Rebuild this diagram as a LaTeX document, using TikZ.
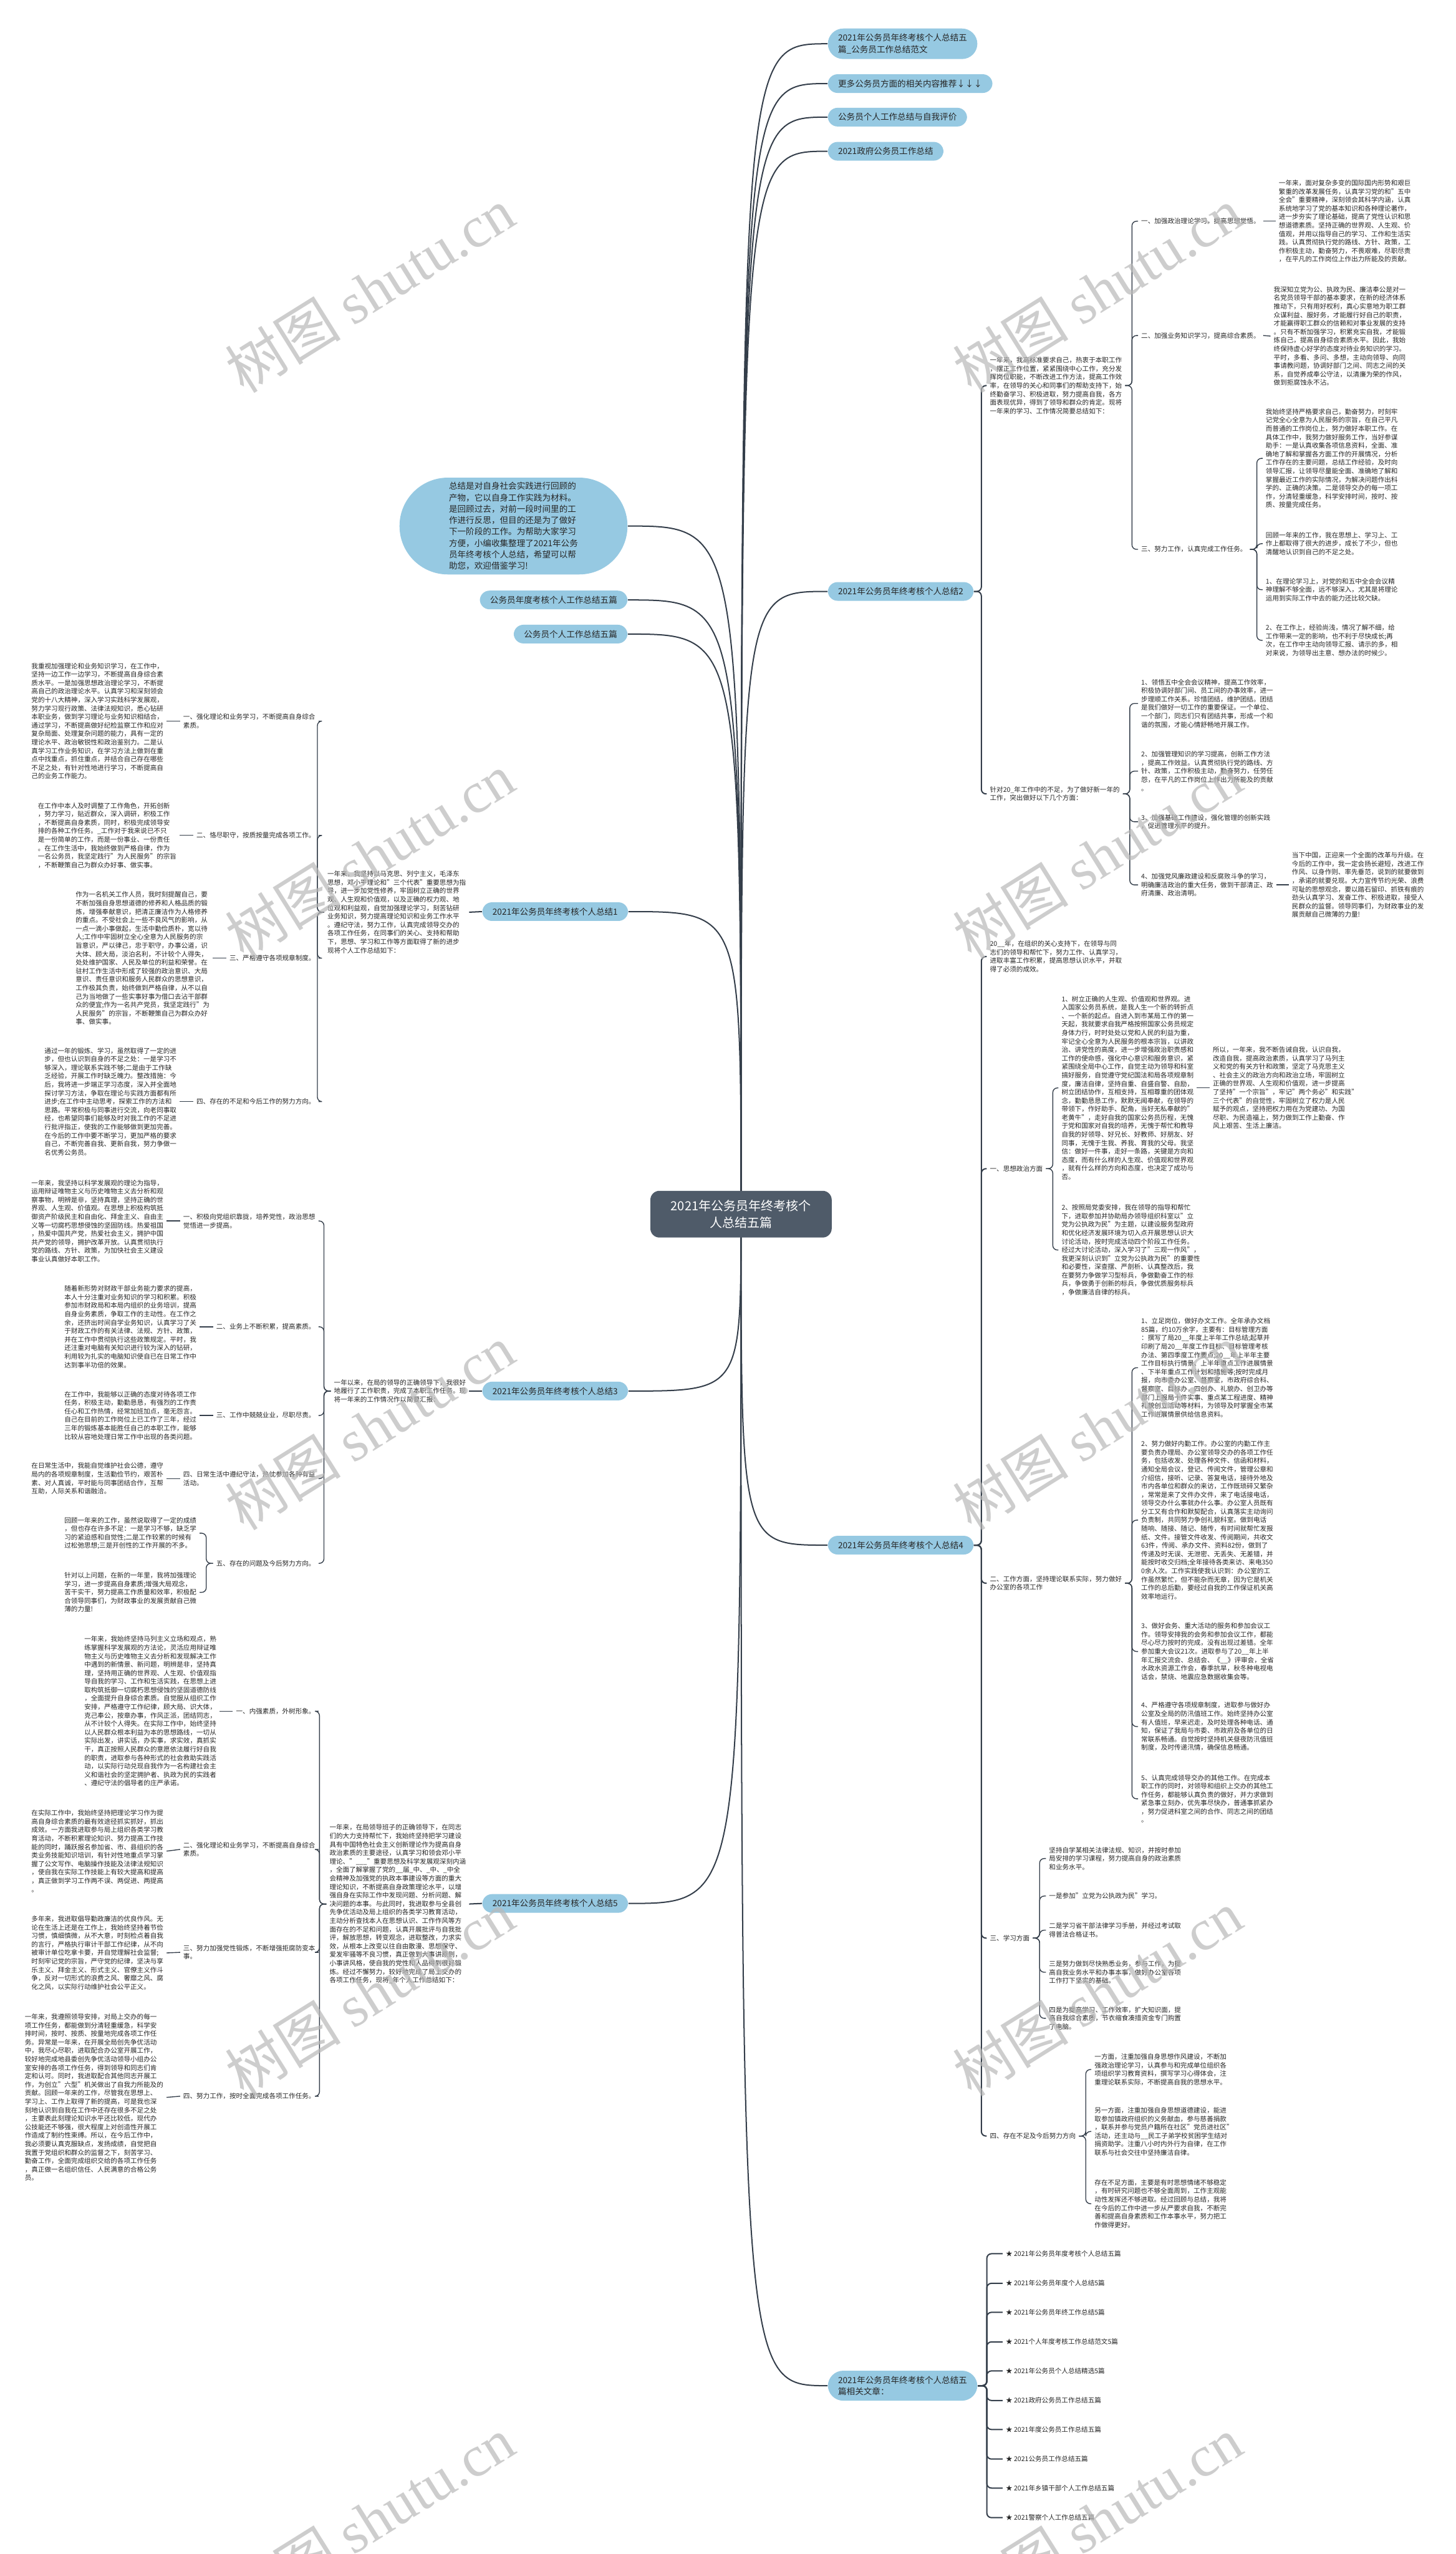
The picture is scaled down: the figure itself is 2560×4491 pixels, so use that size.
\documentclass[tikz,border=0pt]{standalone}
\usepackage{fontspec}
\usepackage{xcolor}
\setmainfont{Noto Sans CJK SC}
\newfontfamily\wmfont{Liberation Serif}
\usetikzlibrary{backgrounds}

\definecolor{topc}{RGB}{150,201,226}
\definecolor{rootc}{RGB}{79,91,105}
\definecolor{lnc}{RGB}{52,62,74}
\definecolor{txc}{RGB}{38,38,38}
\definecolor{wmc}{RGB}{185,185,185}

\begin{document}
\begin{tikzpicture}[x=0.1mm,y=-0.1mm,
    link/.style={draw=lnc, line width=0.22mm},
    brk/.style={draw=lnc, line width=0.15mm, rounded corners=0.8mm},
    rootbox/.style={rectangle, rounded corners=1.6mm, fill=rootc, text=white, inner xsep=3.6mm, inner ysep=1.6mm, align=center, font=\fontsize{6.26pt}{8.5pt}\selectfont},
    topic/.style={rectangle, rounded corners=1.7mm, fill=topc, text=txc, inner xsep=1.8mm, inner ysep=0.95mm, align=left, font=\fontsize{4.24pt}{5.69pt}\selectfont},
    leaf/.style={inner sep=0.5mm, text=txc, align=left, font=\fontsize{3.3pt}{4.24pt}\selectfont},
    wmark/.style={text=wmc, text opacity=0.7, rotate=32, font=\fontsize{29pt}{29pt}\selectfont}]

    \useasboundingbox (0,0) rectangle (2560,4491);

    % root and first level
    \node (root) at (1303, 2135) [rootbox] {2021年公务员年终考核个\\人总结五篇};

    \node (sa) at (1455,   77) [topic, anchor=west, rounded corners=2.7mm] {2021年公务员年终考核个人总结五\\篇\_公务员工作总结范文};
    \node (sb) at (1455,  147) [topic, anchor=west] {更多公务员方面的相关内容推荐↓↓↓};
    \node (sc) at (1455,  206) [topic, anchor=west] {公务员个人工作总结与自我评价};
    \node (sd) at (1455,  266) [topic, anchor=west] {2021政府公务员工作总结};
    \node (s2) at (1455, 1040) [topic, anchor=west] {2021年公务员年终考核个人总结2};
    \node (s4) at (1455, 2717) [topic, anchor=west] {2021年公务员年终考核个人总结4};
    \node (sr) at (1455, 4195) [topic, anchor=west, rounded corners=2.7mm] {2021年公务员年终考核个人总结五\\篇相关文章：};

    \node (sx) at (1104,  925) [topic, anchor=east, rounded corners=8.5mm, inner xsep=8.7mm, inner ysep=0.8mm] {总结是对自身社会实践进行回顾的\\产物，它以自身工作实践为材料。\\是回顾过去，对前一段时间里的工\\作进行反思，但目的还是为了做好\\下一阶段的工作。为帮助大家学习\\方便，小编收集整理了2021年公务\\员年终考核个人总结，希望可以帮\\助您，欢迎借鉴学习!};
    \node (se) at (1104, 1055) [topic, anchor=east] {公务员年度考核个人工作总结五篇};
    \node (sf) at (1104, 1115) [topic, anchor=east] {公务员个人工作总结五篇};
    \node (s1) at (1105, 1603) [topic, anchor=east] {2021年公务员年终考核个人总结1};
    \node (s3) at (1105, 2446) [topic, anchor=east] {2021年公务员年终考核个人总结3};
    \node (s5) at (1105, 3347) [topic, anchor=east] {2021年公务员年终考核个人总结5};

    % summary 1
    \node (s1i) at (825, 1604) [leaf, anchor=east] {一年来，我坚持以马克思、列宁主义，毛泽东\\思想，邓小平理论和"三个代表"重要思想为指\\导，进一步加党性修养，牢固树立正确的世界\\观、人生观和价值观，以及正确的权力观、地\\位观和利益观，自觉加强理论学习，刻苦钻研\\业务知识，努力提高理论知识和业务工作水平\\。遵纪守法，努力工作，认真完成领导交办的\\各项工作任务，在同事们的关心、支持和帮助\\下，思想、学习和工作等方面取得了新的进步\\现将个人工作总结如下：};
    \node (s1a) at (560, 1268) [leaf, anchor=east] {一、强化理论和业务学习，不断提高自身综合\\素质。};
    \node (s1b) at (560, 1469) [leaf, anchor=east] {二、恪尽职守，按质按量完成各项工作。};
    \node (s1c) at (560, 1685) [leaf, anchor=east] {三、严格遵守各项规章制度。};
    \node (s1d) at (560, 1937) [leaf, anchor=east] {四、存在的不足和今后工作的努力方向。};
    \node (s1a1) at (293, 1268) [leaf, anchor=east] {我重视加强理论和业务知识学习，在工作中，\\坚持一边工作一边学习，不断提高自身综合素\\质水平。一是加强思想政治理论学习，不断提\\高自己的政治理论水平。认真学习和深刻领会\\党的十八大精神，深入学习实践科学发展观，\\努力学习现行政策、法律法规知识，悉心钻研\\本职业务，做到学习理论与业务知识相结合，\\通过学习，不断提高做好纪检监察工作和应对\\复杂局面、处理复杂问题的能力，具有一定的\\理论水平、政治敏锐性和政治鉴别力。二是认\\真学习工作业务知识，在学习方法上做到在重\\点中找重点，抓住重点，并结合自己存在哪些\\不足之处，有针对性地进行学习，不断提高自\\己的业务工作能力。};
    \node (s1b1) at (316, 1469) [leaf, anchor=east] {在工作中本人及时调整了工作角色，开拓创新\\，努力学习，贴近群众，深入调研，积极工作\\，不断提高自身素质，同时，积极完成领导安\\排的各种工作任务。\_工作对于我来说已不只\\是一份简单的工作，而是一份事业、一份责任\\。在工作生活中，我始终做到严格自律，作为\\一名公务员，我坚定践行"为人民服务"的宗旨\\，不断鞭策自己为群众办好事、做实事。};
    \node (s1c1) at (374, 1685) [leaf, anchor=east] {作为一名机关工作人员，我时刻提醒自己，要\\不断加强自身思想道德的修养和人格品质的锻\\炼，增强奉献意识，把清正廉洁作为人格修养\\的重点。不受社会上一些不良风气的影响，从\\一点一滴小事做起，生活中勤俭质朴，宽以待\\人;工作中牢固树立全心全意为人民服务的宗\\旨意识，严以律己，忠于职守，办事公道，识\\大体、顾大局，淡泊名利，不计较个人得失，\\处处维护国家、人民及单位的利益和荣誉。在\\驻村工作生活中形成了较强的政治意识、大局\\意识、责任意识和服务人民群众的思想意识，\\工作极其负责，始终做到严格自律，从不以自\\己为当地做了一些实事好事为借口去沾干部群\\众的便宜;作为一名共产党员，我坚定践行"为\\人民服务"的宗旨，不断鞭策自己为群众办好\\事、做实事。};
    \node (s1d1) at (316, 1937) [leaf, anchor=east] {通过一年的锻炼、学习，虽然取得了一定的进\\步，但也认识到自身的不足之处：一是学习不\\够深入，理论联系实践不够;二是由于工作缺\\乏经验，开展工作时缺乏魄力。整改措施：今\\后，我将进一步端正学习态度，深入并全面地\\探讨学习方法，争取在理论与实践方面都有所\\进步;在工作中主动思考，探索工作的方法和\\思路。平常积极与同事进行交流，向老同事取\\经，也希望同事们能够及时对我工作的不足进\\行批评指正，使我的工作能够做到更加完善。\\在今后的工作中要不断学习，更加严格的要求\\自己，不断完善自我、更新自我，努力争做一\\名优秀公务员。};

    % summary 3
    \node (s3i) at (825, 2446) [leaf, anchor=east] {一年以来，在局的领导的正确领导下，我很好\\地履行了工作职责，完成了本职工作任务。现\\将一年来的工作情况作以简要汇报：};
    \node (s3a) at (560, 2147) [leaf, anchor=east] {一、积极向党组织靠拢，培养党性，政治思想\\觉悟进一步提高。};
    \node (s3b) at (560, 2333) [leaf, anchor=east] {二、业务上不断积累，提高素质。};
    \node (s3c) at (560, 2489) [leaf, anchor=east] {三、工作中兢兢业业，尽职尽责。};
    \node (s3d) at (560, 2600) [leaf, anchor=east] {四、日常生活中遵纪守法，热忱参加各种有益\\活动。};
    \node (s3e) at (560, 2749) [leaf, anchor=east] {五、存在的问题及今后努力方向。};
    \node (s3a1) at (293, 2147) [leaf, anchor=east] {一年来，我坚持以科学发展观的理论为指导，\\运用辩证唯物主义与历史唯物主义去分析和观\\察事物，明辨是非，坚持真理，坚持正确的世\\界观、人生观、价值观。在思想上积极构筑抵\\御资产阶级民主和自由化、拜金主义、自由主\\义等一切腐朽思想侵蚀的坚固防线。热爱祖国\\，热爱中国共产党，热爱社会主义，拥护中国\\共产党的领导，拥护改革开放。认真贯彻执行\\党的路线、方针、政策，为加快社会主义建设\\事业认真做好本职工作。};
    \node (s3b1) at (351, 2333) [leaf, anchor=east] {随着新形势对财政干部业务能力要求的提高，\\本人十分注重对业务知识的学习和积累。积极\\参加市财政局和本局内组织的业务培训，提高\\自身业务素质，争取工作的主动性。在工作之\\余，还挤出时间自学业务知识，认真学习了关\\于财政工作的有关法律、法规、方针、政策，\\并在工作中贯彻执行这些政策规定。平时，我\\还注重对电脑有关知识进行较为深入的钻研，\\利用较为扎实的电脑知识使自已在日常工作中\\达到事半功倍的效果。};
    \node (s3c1) at (351, 2489) [leaf, anchor=east] {在工作中，我能够以正确的态度对待各项工作\\任务，积极主动，勤勤恳恳，有强烈的工作责\\任心和工作热情，经常加班加点，毫无怨言。\\自己在目前的工作岗位上已工作了三年，经过\\三年的锻炼基本能胜任自己的本职工作，能够\\比较从容地处理日常工作中出现的各类问题。};
    \node (s3d1) at (293, 2600) [leaf, anchor=east] {在日常生活中，我能自觉维护社会公德，遵守\\局内的各项规章制度，生活勤俭节约，艰苦朴\\素、对人真诚，平时能与同事团结合作，互帮\\互助，人际关系和谐融洽。};
    \node (s3e1) at (351, 2696) [leaf, anchor=east] {回顾一年来的工作，虽然说取得了一定的成绩\\，但也存在许多不足：一是学习不够，缺乏学\\习的紧迫感和自觉性;二是工作较累的时候有\\过松弛思想;三是开创性的工作开展的不多。};
    \node (s3e2) at (351, 2800) [leaf, anchor=east] {针对以上问题，在新的一年里，我将加强理论\\学习，进一步提高自身素质;增强大局观念，\\苦干实干，努力提高工作质量和效率，积极配\\合领导同事们，为财政事业的发展贡献自己微\\薄的力量!};

    % summary 5
    \node (s5i) at (825, 3348) [leaf, anchor=east] {一年来，在局领导班子的正确领导下，在同志\\们的大力支持帮忙下，我始终坚持把学习建设\\具有中国特色社会主义创新理论作为提高自身\\政治素质的主要途径，认真学习和领会邓小平\\理论、"\_\_\_"重要思想及科学发展观深刻内涵\\，全面了解掌握了党的\_\_届\_中、\_中、\_中全\\会精神及加强党的执政本事建设等方面的重大\\理论知识，不断提高自身政策理论水平，以增\\强自身在实际工作中发现问题、分析问题、解\\决问题的本事。与此同时，我进取参与全县创\\先争优活动及局上组织的各类学习教育活动，\\主动分析查找本人在思想认识、工作作风等方\\面存在的不足和问题，认真开展批评与自我批\\评，解放思想，转变观念，进取整改，力求实\\效，从根本上改变以往自由散漫、思想保守、\\爱发牢骚等不良习惯，真正做到大事讲原则，\\小事讲风格，使自我的党性和人品得到很好锻\\炼。经过不懈努力，较好地完成了局上交办的\\各项工作任务，现将\_年个人工作总结如下：};
    \node (s5a) at (560, 3009) [leaf, anchor=east] {一、内强素质，外树形象。};
    \node (s5b) at (560, 3252) [leaf, anchor=east] {二、强化理论和业务学习，不断提高自身综合\\素质。};
    \node (s5c) at (560, 3433) [leaf, anchor=east] {三、努力加强党性锻炼，不断增强拒腐防变本\\事。};
    \node (s5d) at (560, 3686) [leaf, anchor=east] {四、努力工作，按时全面完成各项工作任务。};
    \node (s5a1) at (386, 3009) [leaf, anchor=east] {一年来，我始终坚持马列主义立场和观点，熟\\练掌握科学发展观的方法论，灵活应用辩证唯\\物主义与历史唯物主义去分析和发现解决工作\\中遇到的新情景、新问题，明辨是非，坚持真\\理，坚持用正确的世界观、人生观、价值观指\\导自我的学习、工作和生活实践，在思想上进\\取构筑抵御一切腐朽思想侵蚀的坚固道德防线\\，全面提升自身综合素质。自觉服从组织工作\\安排，严格遵守工作纪律，顾大局、识大体，\\克己奉公，按章办事，作风正派，团结同志，\\从不计较个人得失。在实际工作中，始终坚持\\以人民群众根本利益为本的思想路线，一切从\\实际出发，讲实话，办实事，求实效，真抓实\\干，真正按照人民群众的意愿依法履行好自我\\的职责，进取参与各种形式的社会救助实践活\\动，以实际行动兑现自我作为一名构建社会主\\义和谐社会的坚定拥护者、执政为民的实践者\\、遵纪守法的倡导者的庄严承诺。};
    \node (s5b1) at (293, 3255) [leaf, anchor=east] {在实际工作中，我始终坚持把理论学习作为提\\高自身综合素质的最有效途径抓实抓好，抓出\\成效。一方面我进取参与局上组织各类学习教\\育活动，不断积累理论知识、努力提高工作技\\能的同时，踊跃报名参加省、市、县组织的各\\类业务技能知识培训，有针对性地重点学习掌\\握了公文写作、电脑操作技能及法律法规知识\\，使自我在实际工作技能上有较大提高和提高\\，真正做到学习工作两不误、两促进、两提高\\。};
    \node (s5c1) at (293, 3434) [leaf, anchor=east] {多年来，我进取倡导勤政廉洁的优良作风。无\\论在生活上还是在工作上，我始终坚持着节俭\\习惯，慎细慎微，从不大意，时刻检点着自我\\的言行，严格执行审计干部工作纪律，从不向\\被审计单位吃拿卡要，并自觉理解社会监督;\\时刻牢记党的宗旨，严守党的纪律，坚决与享\\乐主义、拜金主义、形式主义、官僚主义作斗\\争，反对一切形式的浪费之风、奢靡之风、腐\\化之风，以实际行动维护社会公平正义。};
    \node (s5d1) at (293, 3688) [leaf, anchor=east] {一年来，我遵照领导安排，对局上交办的每一\\项工作任务，都能做到分清轻重缓急，科学安\\排时间，按时、按质、按量地完成各项工作任\\务。异常是一年来，在开展全局创先争优活动\\中，我尽心尽职，进取配合办公室开展工作，\\较好地完成地县委创先争优活动领导小组办公\\室安排的各项工作任务，得到领导和同志们肯\\定和认可。同时，我进取配合其他同志开展工\\作，为创立"六型"机关做出了自我力所能及的\\贡献。回顾一年来的工作，尽管我在思想上、\\学习上、工作上取得了新的提高，可是我也深\\刻地认识到自我在工作中还存在很多不足之处\\，主要表此刻理论知识水平还比较低，现代办\\公技能还不够强，很大程度上对创造性开展工\\作造成了制约性束缚。所以，在今后工作中，\\我必须要认真克服缺点，发扬成绩，自觉把自\\我置于党组织和群众的监督之下，刻苦学习、\\勤奋工作，全面完成组织交给的各项工作任务\\，真正做一名组织信任、人民满意的合格公务\\员。};

    % summary 2
    \node (s2i) at (1735, 678) [leaf, anchor=west] {一年来，我高标准要求自己，热衷于本职工作\\，摆正工作位置，紧紧围绕中心工作，充分发\\挥岗位职能，不断改进工作方法，提高工作效\\率，在领导的关心和同事们的帮助支持下，始\\终勤奋学习、积极进取，努力提高自我，各方\\面表现优异，得到了领导和群众的肯定。现将\\一年来的学习、工作情况简要总结如下：};
    \node (s2a) at (2001, 389) [leaf, anchor=west] {一、加强政治理论学习，提高思想觉悟。};
    \node (s2b) at (2001, 590) [leaf, anchor=west] {二、加强业务知识学习，提高综合素质。};
    \node (s2c) at (2001, 966) [leaf, anchor=west] {三、努力工作，认真完成工作任务。};
    \node (s2a1) at (2243, 389) [leaf, anchor=west] {一年来，面对复杂多变的国际国内形势和艰巨\\繁重的改革发展任务，认真学习党的和"五中\\全会"重要精神，深刻领会其科学内涵，认真\\系统地学习了党的基本知识和各种理论著作，\\进一步夯实了理论基础，提高了党性认识和思\\想道德素质。坚持正确的世界观、人生观、价\\值观，并用以指导自己的学习、工作和生活实\\践。认真贯彻执行党的路线、方针、政策，工\\作积极主动，勤奋努力，不畏艰难，尽职尽责\\，在平凡的工作岗位上作出力所能及的贡献。};
    \node (s2b1) at (2234, 591) [leaf, anchor=west] {我深知立党为公、执政为民、廉洁奉公是对一\\名党员领导干部的基本要求，在新的经济体系\\推动下，只有用好权利，真心实意地为职工群\\众谋利益、服好务，才能履行好自己的职责，\\才能赢得职工群众的信赖和对事业发展的支持\\。只有不断加强学习，积累充实自我，才能锻\\炼自己，提高自身综合素质水平。因此，我始\\终保持虚心好学的态度对待业务知识的学习。\\平时，多看、多问、多想，主动向领导、向同\\事请教问题，协调好部门之间、同志之间的关\\系，自觉养成奉公守法，以清廉为荣的作风，\\做到拒腐蚀永不沾。};
    \node (s2c1) at (2220, 806) [leaf, anchor=west] {我始终坚持严格要求自己，勤奋努力，时刻牢\\记党全心全意为人民服务的宗旨，在自己平凡\\而普通的工作岗位上，努力做好本职工作。在\\具体工作中，我努力做好服务工作，当好参谋\\助手：一是认真收集各项信息资料，全面、准\\确地了解和掌握各方面工作的开展情况，分析\\工作存在的主要问题，总结工作经验，及时向\\领导汇报，让领导尽量能全面、准确地了解和\\掌握最近工作的实际情况，为解决问题作出科\\学的、正确的决策。二是领导交办的每一项工\\作，分清轻重缓急，科学安排时间，按时、按\\质、按量完成任务。};
    \node (s2c2) at (2220, 956) [leaf, anchor=west] {回顾一年来的工作，我在思想上、学习上、工\\作上都取得了很大的进步，成长了不少，但也\\清醒地认识到自己的不足之处。};
    \node (s2c3) at (2220, 1037) [leaf, anchor=west] {1、在理论学习上，对党的和五中全会会议精\\神理解不够全面，远不够深入，尤其是将理论\\运用到实际工作中去的能力还比较欠缺。};
    \node (s2c4) at (2220, 1126) [leaf, anchor=west] {2、在工作上，经验尚浅，情况了解不细，给\\工作带来一定的影响，也不利于尽快成长;再\\次，在工作中主动向领导汇报、请示的多，相\\对来说，为领导出主意、想办法的时候少。};
    \node (s2j) at (1735, 1396) [leaf, anchor=west] {针对20\_年工作中的不足，为了做好新一年的\\工作，突出做好以下几个方面：};
    \node (s2j1) at (2001, 1237) [leaf, anchor=west] {1、领悟五中全会会议精神，提高工作效率，\\积极协调好部门间、员工间的办事效率，进一\\步理顺工作关系。珍惜团结，维护团结。团结\\是我们做好一切工作的重要保证。一个单位、\\一个部门，同志们只有团结共事，形成一个和\\谐的氛围，才能心情舒畅地开展工作。};
    \node (s2j2) at (2001, 1356) [leaf, anchor=west] {2、加强管理知识的学习提高，创新工作方法\\，提高工作效益。认真贯彻执行党的路线、方\\针、政策，工作积极主动，勤奋努力，任劳任\\怨，在平凡的工作岗位上作出力所能及的贡献\\。};
    \node (s2j3) at (2001, 1445) [leaf, anchor=west] {3、加强基础工作建设，强化管理的创新实践\\，促进管理水平的提升。};
    \node (s2j4) at (2001, 1556) [leaf, anchor=west] {4、加强党风廉政建设和反腐败斗争的学习，\\明确廉洁政治的重大任务，做到干部清正、政\\府清廉、政治清明。};
    \node (s2j41) at (2266, 1556) [leaf, anchor=west] {当下中国，正迎来一个全面的改革与升级。在\\今后的工作中，我一定会扬长避短，改进工作\\作风、以身作则、率先垂范，说到的就要做到\\，承诺的就要兑现。大力宣传节约光荣、浪费\\可耻的思想观念，要以踏石留印、抓铁有痕的\\劲头认真学习、发奋工作、积极进取，接受人\\民群众的监督。领导同事们，为财政事业的发\\展贡献自己微薄的力量!};

    % summary 4
    \node (s4i) at (1735, 1682) [leaf, anchor=west] {20\_\_年，在组织的关心支持下，在领导与同\\志们的领导和帮忙下，努力工作、认真学习，\\进取丰富工作积累，提高思想认识水平，并取\\得了必须的成效。};
    \node (s4a) at (1735, 2055) [leaf, anchor=west] {一、思想政治方面};
    \node (s4a1) at (1861, 1913) [leaf, anchor=west] {1、树立正确的人生观、价值观和世界观。进\\入国家公务员系统，是我人生一个新的转折点\\、一个新的起点。自进入到市某局工作的第一\\天起，我就要求自我严格按照国家公务员规定\\身体力行，时时处处以党和人民的利益为重，\\牢记全心全意为人民服务的根本宗旨，以讲政\\治、讲党性的高度，进一步增强政治职责感和\\工作的使命感，强化中心意识和服务意识，紧\\紧围绕全局中心工作，自觉主动为领导和科室\\搞好服务，自觉遵守党纪国法和局各项规章制\\度，廉洁自律，坚持自重、自盛自警、自励，\\树立团结协作，互相支持，互相尊重的团体观\\念，勤勤恳恳工作，默默无闻奉献，在领导的\\带领下，作好助手、配角，当好无私奉献的"\\老黄牛"，走好自我的国家公务员历程，无愧\\于党和国家对自我的培养，无愧于帮忙和教导\\自我的好领导、好兄长、好教师、好朋友、好\\同事，无愧于生我、养我、育我的父母。我坚\\信：做好一件事，走好一条路，关键是方向和\\态度，而有什么样的人生观、价值观和世界观\\，就有什么样的方向和态度，也决定了成功与\\否。};
    \node (s4a11) at (2127, 1913) [leaf, anchor=west] {所以，一年来，我不断告诫自我，认识自我，\\改造自我，提高政治素质，认真学习了马列主\\义和党的有关方针和政策，坚定了马克思主义\\、社会主义的政治方向和政治立场，牢固树立\\正确的世界观、人生观和价值观，进一步提高\\了坚持"一个宗旨"，牢记"两个务必"和实践"\\三个代表"的自觉性，牢固树立了权力是人民\\赋予的观点，坚持把权力用在为党建功、为国\\尽职、为民造福上，努力做到工作上勤奋、作\\风上艰苦、生活上廉洁。};
    \node (s4a2) at (1861, 2198) [leaf, anchor=west] {2、按照局党委安排，我在领导的指导和帮忙\\下，进取参加并协助局办领导组织科室以"立\\党为公执政为民"为主题，以建设服务型政府\\和优化经济发展环境为切入点开展思想认识大\\讨论活动，按时完成活动四个阶段工作任务。\\经过大讨论活动，深入学习了"三观一作风"，\\我更深刻认识到"立党为公执政为民"的重要性\\和必要性，深查摆、严剖析、认真整改后，我\\在要努力争做学习型标兵，争做勤奋工作的标\\兵，争做勇于创新的标兵，争做优质服务标兵\\，争做廉洁自律的标兵。};
    \node (s4b) at (1735, 2784) [leaf, anchor=west] {二、工作方面，坚持理论联系实际，努力做好\\办公室的各项工作};
    \node (s4b1) at (2001, 2405) [leaf, anchor=west] {1、立足岗位，做好办文工作。全年承办文档\\85篇，约10万余字，主要有：目标管理方面\\：撰写了局20\_\_年度上半年工作总结;起草并\\印刷了局20\_\_年度工作目标、目标管理考核\\办法、第四季度工作要点;20\_\_年上半年主要\\工作目标执行情景、上半年重点工作进展情景\\、下半年重点工作计划和措施等;按时完成月\\报，向市委办公室、督察室，市政府综合科、\\督察室、目标办，四创办、礼貌办、创卫办等\\部门上报局十件实事、重点某工程进度、精神\\礼貌创立活动等材料，为领导及时掌握全市某\\工作进展情景供给信息资料。};
    \node (s4b2) at (2001, 2673) [leaf, anchor=west] {2、努力做好内勤工作。办公室的内勤工作主\\要负责办理局、办公室领导交办的各项工作任\\务，包括收发、处理各种文件、信函和材料，\\通知全局会议，登记、传阅文件，管理公章和\\介绍信，接听、记录、答复电话，接待外地及\\市内各单位和群众的来访，工作既琐碎又繁杂\\，常常是来了文件办文件，来了电话接电话，\\领导交办什么事就办什么事。办公室人员既有\\分工又有合作和默契配合，认真落实主动询问\\负责制，共同努力争创礼貌科室。做到电话\\随响、随接、随记、随传，有时间就帮忙发报\\纸、文件。接管文件收发、传阅期间，共收文\\63件，传阅、承办文件、资料82份，做到了\\传递及时无误、无泄密、无丢失、无差错，并\\能按时收交归档;全年接待各类来访、来电350\\0余人次。工作实践使我认识到：办公室的工\\作虽然繁忙，但不能杂而无章，因为它是机关\\工作的总后勤，要经过自我的工作保证机关高\\效率地运行。};
    \node (s4b3) at (2001, 2904) [leaf, anchor=west] {3、做好会务、重大活动的服务和参加会议工\\作。领导安排我的会务和参加会议工作，都能\\尽心尽力按时的完成，没有出现过差错。全年\\参加重大会议21次。进取参与了20\_\_年上半\\年汇报交流会、总结会、《\_\_》评审会，全省\\水政水资源工作会，春季抗旱，秋冬种电视电\\话会，禁烧、地震应急数据收集会等。};
    \node (s4b4) at (2001, 3036) [leaf, anchor=west] {4、严格遵守各项规章制度，进取参与做好办\\公室及全局的防汛值班工作。始终坚持办公室\\有人值班，早来迟走，及时处理各种电话、通\\知，保证了我局与市委、市政府及各单位的日\\常联系畅通。自觉按时坚持机关昼夜防汛值班\\制度，及时传递汛情，确保信息畅通。};
    \node (s4b5) at (2001, 3163) [leaf, anchor=west] {5、认真完成领导交办的其他工作。在完成本\\职工作的同时，对领导和组织上交办的其他工\\作任务，都能够认真负责的做好，并力求做到\\紧急事立刻办，优先事尽快办，普通事抓紧办\\，努力促进科室之间的合作、同志之间的团结\\。};
    \node (s4c) at (1735, 3408) [leaf, anchor=west] {三、学习方面};
    \node (s4c1) at (1839, 3268) [leaf, anchor=west] {坚持自学某相关法律法规、知识，并按时参加\\局安排的学习课程，努力提高自身的政治素质\\和业务水平。};
    \node (s4c2) at (1839, 3334) [leaf, anchor=west] {一是参加"立党为公执政为民"学习。};
    \node (s4c3) at (1839, 3394) [leaf, anchor=west] {二是学习省干部法律学习手册，并经过考试取\\得普法合格证书。};
    \node (s4c4) at (1839, 3468) [leaf, anchor=west] {三是努力做到尽快熟悉业务，参与工作，为提\\高自我业务水平和办事本事，做好办公室各项\\工作打下坚实的基础。};
    \node (s4c5) at (1839, 3549) [leaf, anchor=west] {四是为提高学习、工作效率，扩大知识面，提\\高自我综合素质，节衣缩食凑措资金专门购置\\了电脑。};
    \node (s4d) at (1735, 3756) [leaf, anchor=west] {四、存在不足及今后努力方向};
    \node (s4d1) at (1919, 3639) [leaf, anchor=west] {一方面，注重加强自身思想作风建设，不断加\\强政治理论学习，认真参与和完成单位组织各\\项组织学习教育资料，撰写学习心得体会，注\\重理论联系实际，不断提高自我的思想水平。};
    \node (s4d2) at (1919, 3748) [leaf, anchor=west] {另一方面，注重加强自身思想道德建设，能进\\取参加镇政府组织的义务献血，参与慈善捐款\\，联系并参与党员户籍所在社区"党员进社区"\\活动，还主动与\_\_民工子弟学校贫困学生结对\\捐资助学。注重八小时内外行为自律，在工作\\联系与社会交往中坚持廉洁自律。};
    \node (s4d3) at (1919, 3875) [leaf, anchor=west] {存在不足方面，主要是有时思想情绪不够稳定\\，有时研究问题也不够全面周到，工作主观能\\动性发挥还不够进取。经过回顾与总结，我将\\在今后的工作中进一步从严要求自我，不断完\\善和提高自身素质和工作本事水平，努力把工\\作做得更好。};

    % related articles
    \node (r1)  at (1763, 3963) [leaf, anchor=west] {★ 2021年公务员年度考核个人总结五篇};
    \node (r2)  at (1763, 4015) [leaf, anchor=west] {★ 2021年公务员年度个人总结5篇};
    \node (r3)  at (1763, 4066) [leaf, anchor=west] {★ 2021年公务员年终工作总结5篇};
    \node (r4)  at (1763, 4118) [leaf, anchor=west] {★ 2021个人年度考核工作总结范文5篇};
    \node (r5)  at (1763, 4169) [leaf, anchor=west] {★ 2021年公务员个人总结精选5篇};
    \node (r6)  at (1763, 4221) [leaf, anchor=west] {★ 2021政府公务员工作总结五篇};
    \node (r7)  at (1763, 4272) [leaf, anchor=west] {★ 2021年度公务员工作总结五篇};
    \node (r8)  at (1763, 4324) [leaf, anchor=west] {★ 2021公务员工作总结五篇};
    \node (r9)  at (1763, 4375) [leaf, anchor=west] {★ 2021年乡镇干部个人工作总结五篇};
    \node (r10) at (1763, 4427) [leaf, anchor=west] {★ 2021警察个人工作总结五篇};

    % connectors from the root
    \begin{scope}[on background layer]
        \fill[white] (0,0) rectangle (2560,4491);
        \draw[link] (root.center) .. controls (root.center |- sa.west) .. (sa.west);
        \draw[link] (root.center) .. controls (root.center |- sb.west) .. (sb.west);
        \draw[link] (root.center) .. controls (root.center |- sc.west) .. (sc.west);
        \draw[link] (root.center) .. controls (root.center |- sd.west) .. (sd.west);
        \draw[link] (root.center) .. controls (root.center |- s2.west) .. (s2.west);
        \draw[link] (root.center) .. controls (root.center |- s4.west) .. (s4.west);
        \draw[link] (root.center) .. controls (root.center |- sr.west) .. (sr.west);
        \draw[link] (root.center) .. controls (root.center |- sx.east) .. (sx.east);
        \draw[link] (root.center) .. controls (root.center |- se.east) .. (se.east);
        \draw[link] (root.center) .. controls (root.center |- sf.east) .. (sf.east);
        \draw[link] (root.center) .. controls (root.center |- s1.east) .. (s1.east);
        \draw[link] (root.center) .. controls (root.center |- s3.east) .. (s3.east);
        \draw[link] (root.center) .. controls (root.center |- s5.east) .. (s5.east);
    \end{scope}

    % left branches
    \draw[link] (s1.west) -- (s1i.east);
    \draw[brk] (s1i.west) -- ++(-12,0) |- (s1a.east);
    \draw[brk] (s1i.west) -- ++(-12,0) |- (s1b.east);
    \draw[brk] (s1i.west) -- ++(-12,0) |- (s1c.east);
    \draw[brk] (s1i.west) -- ++(-12,0) |- (s1d.east);
    \draw[brk] (s1a.west) -- (s1a1.east);
    \draw[brk] (s1b.west) -- (s1b1.east);
    \draw[brk] (s1c.west) -- (s1c1.east);
    \draw[brk] (s1d.west) -- (s1d1.east);

    \draw[link] (s3.west) -- (s3i.east);
    \draw[brk] (s3i.west) -- ++(-12,0) |- (s3a.east);
    \draw[brk] (s3i.west) -- ++(-12,0) |- (s3b.east);
    \draw[brk] (s3i.west) -- ++(-12,0) |- (s3c.east);
    \draw[brk] (s3i.west) -- ++(-12,0) |- (s3d.east);
    \draw[brk] (s3i.west) -- ++(-12,0) |- (s3e.east);
    \draw[brk] (s3a.west) -- (s3a1.east);
    \draw[brk] (s3b.west) -- (s3b1.east);
    \draw[brk] (s3c.west) -- (s3c1.east);
    \draw[brk] (s3d.west) -- (s3d1.east);
    \draw[brk] (s3e.west) -- ++(-12,0) |- (s3e1.east);
    \draw[brk] (s3e.west) -- ++(-12,0) |- (s3e2.east);

    \draw[link] (s5.west) -- (s5i.east);
    \draw[brk] (s5i.west) -- ++(-12,0) |- (s5a.east);
    \draw[brk] (s5i.west) -- ++(-12,0) |- (s5b.east);
    \draw[brk] (s5i.west) -- ++(-12,0) |- (s5c.east);
    \draw[brk] (s5i.west) -- ++(-12,0) |- (s5d.east);
    \draw[brk] (s5a.west) -- (s5a1.east);
    \draw[brk] (s5b.west) -- (s5b1.east);
    \draw[brk] (s5c.west) -- (s5c1.east);
    \draw[brk] (s5d.west) -- (s5d1.east);

    % right branches
    \draw[link, rounded corners=0.8mm] (s2.east) -- ++(13,0) |- (s2i.west);
    \draw[link, rounded corners=0.8mm] (s2.east) -- ++(13,0) |- (s2j.west);
    \draw[brk] (s2i.east) -- ++(12,0) |- (s2a.west);
    \draw[brk] (s2i.east) -- ++(12,0) |- (s2b.west);
    \draw[brk] (s2i.east) -- ++(12,0) |- (s2c.west);
    \draw[brk] (s2a.east) -- (s2a1.west);
    \draw[brk] (s2b.east) -- (s2b1.west);
    \draw[brk] (s2c.east) -- ++(12,0) |- (s2c1.west);
    \draw[brk] (s2c.east) -- ++(12,0) |- (s2c2.west);
    \draw[brk] (s2c.east) -- ++(12,0) |- (s2c3.west);
    \draw[brk] (s2c.east) -- ++(12,0) |- (s2c4.west);
    \draw[brk] (s2j.east) -- ++(12,0) |- (s2j1.west);
    \draw[brk] (s2j.east) -- ++(12,0) |- (s2j2.west);
    \draw[brk] (s2j.east) -- ++(12,0) |- (s2j3.west);
    \draw[brk] (s2j.east) -- ++(12,0) |- (s2j4.west);
    \draw[brk] (s2j4.east) -- (s2j41.west);

    \draw[link, rounded corners=0.8mm] (s4.east) -- ++(13,0) |- (s4i.west);
    \draw[link, rounded corners=0.8mm] (s4.east) -- ++(13,0) |- (s4a.west);
    \draw[link, rounded corners=0.8mm] (s4.east) -- ++(13,0) |- (s4b.west);
    \draw[link, rounded corners=0.8mm] (s4.east) -- ++(13,0) |- (s4c.west);
    \draw[link, rounded corners=0.8mm] (s4.east) -- ++(13,0) |- (s4d.west);
    \draw[brk] (s4a.east) -- ++(12,0) |- (s4a1.west);
    \draw[brk] (s4a.east) -- ++(12,0) |- (s4a2.west);
    \draw[brk] (s4a1.east) -- (s4a11.west);
    \draw[brk] (s4b.east) -- ++(12,0) |- (s4b1.west);
    \draw[brk] (s4b.east) -- ++(12,0) |- (s4b2.west);
    \draw[brk] (s4b.east) -- ++(12,0) |- (s4b3.west);
    \draw[brk] (s4b.east) -- ++(12,0) |- (s4b4.west);
    \draw[brk] (s4b.east) -- ++(12,0) |- (s4b5.west);
    \draw[brk] (s4c.east) -- ++(12,0) |- (s4c1.west);
    \draw[brk] (s4c.east) -- ++(12,0) |- (s4c2.west);
    \draw[brk] (s4c.east) -- ++(12,0) |- (s4c3.west);
    \draw[brk] (s4c.east) -- ++(12,0) |- (s4c4.west);
    \draw[brk] (s4c.east) -- ++(12,0) |- (s4c5.west);
    \draw[brk] (s4d.east) -- ++(12,0) |- (s4d1.west);
    \draw[brk] (s4d.east) -- ++(12,0) |- (s4d2.west);
    \draw[brk] (s4d.east) -- ++(12,0) |- (s4d3.west);

    \draw[link, rounded corners=0.8mm] (sr.east) -- ++(16,0) |- (r1.west);
    \draw[link, rounded corners=0.8mm] (sr.east) -- ++(16,0) |- (r2.west);
    \draw[link, rounded corners=0.8mm] (sr.east) -- ++(16,0) |- (r3.west);
    \draw[link, rounded corners=0.8mm] (sr.east) -- ++(16,0) |- (r4.west);
    \draw[link, rounded corners=0.8mm] (sr.east) -- ++(16,0) |- (r5.west);
    \draw[link, rounded corners=0.8mm] (sr.east) -- ++(16,0) |- (r6.west);
    \draw[link, rounded corners=0.8mm] (sr.east) -- ++(16,0) |- (r7.west);
    \draw[link, rounded corners=0.8mm] (sr.east) -- ++(16,0) |- (r8.west);
    \draw[link, rounded corners=0.8mm] (sr.east) -- ++(16,0) |- (r9.west);
    \draw[link, rounded corners=0.8mm] (sr.east) -- ++(16,0) |- (r10.west);

    % watermark
    \node (w1)  at (650,  510) [wmark] {树图 {\wmfont shutu.cn}};
    \node (w2)  at (1930, 510) [wmark] {树图 {\wmfont shutu.cn}};
    \node (w3)  at (650, 1505) [wmark] {树图 {\wmfont shutu.cn}};
    \node (w4)  at (1930,1505) [wmark] {树图 {\wmfont shutu.cn}};
    \node (w5)  at (650, 2510) [wmark] {树图 {\wmfont shutu.cn}};
    \node (w6)  at (1930,2510) [wmark] {树图 {\wmfont shutu.cn}};
    \node (w7)  at (650, 3505) [wmark] {树图 {\wmfont shutu.cn}};
    \node (w8)  at (1930,3505) [wmark] {树图 {\wmfont shutu.cn}};
    \node (w9)  at (650, 4430) [wmark] {树图 {\wmfont shutu.cn}};
    \node (w10) at (1930,4430) [wmark] {树图 {\wmfont shutu.cn}};
\end{tikzpicture}
\end{document}
